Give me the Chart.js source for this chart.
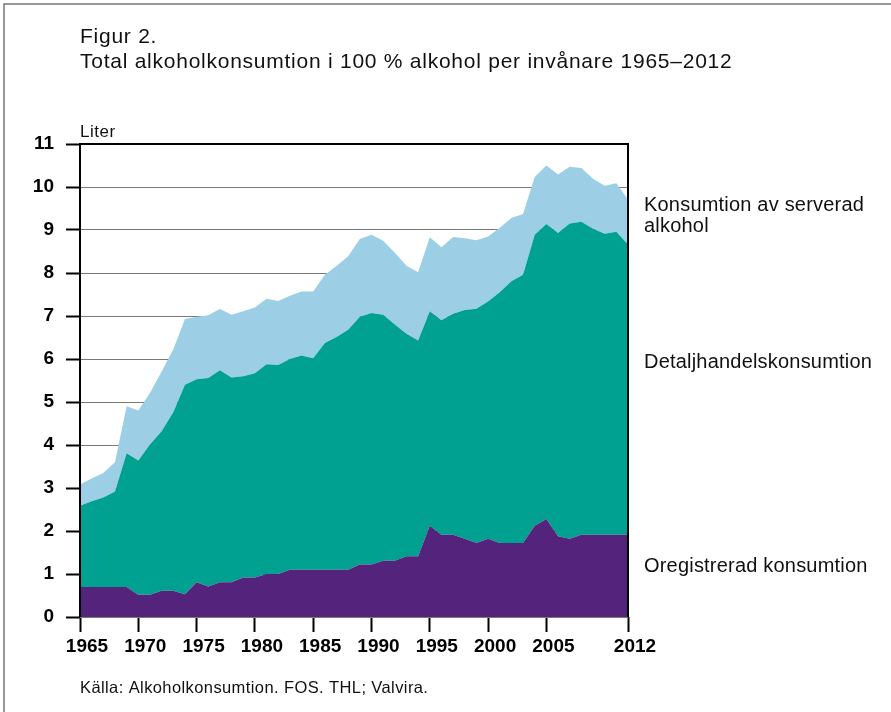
<!DOCTYPE html>
<html>
<head>
<meta charset="utf-8">
<script src="https://cdn.jsdelivr.net/npm/chart.js@4.4.1/dist/chart.umd.min.js"></script>
<style>
  html, body { margin: 0; padding: 0; background: #fff; }
  #wrap { width: 891px; height: 712px; }
</style>
</head>
<body>
<div id="wrap"><canvas id="alkoholChart" width="891" height="712"></canvas></div>
<script>
// År och liter 100 % alkohol per invånare
const years = [
  1965, 1966, 1967, 1968, 1969, 1970, 1971, 1972, 1973, 1974,
  1975, 1976, 1977, 1978, 1979, 1980, 1981, 1982, 1983, 1984,
  1985, 1986, 1987, 1988, 1989, 1990, 1991, 1992, 1993, 1994,
  1995, 1996, 1997, 1998, 1999, 2000, 2001, 2002, 2003, 2004,
  2005, 2006, 2007, 2008, 2009, 2010, 2011, 2012
];

const oregistrerad = [
  0.70, 0.70, 0.70, 0.70, 0.70, 0.52, 0.52, 0.61, 0.61, 0.53,
  0.81, 0.71, 0.81, 0.81, 0.92, 0.92, 1.00, 1.00, 1.10, 1.10,
  1.10, 1.10, 1.10, 1.10, 1.22, 1.22, 1.31, 1.31, 1.41, 1.41,
  2.12, 1.91, 1.91, 1.82, 1.72, 1.82, 1.72, 1.72, 1.72, 2.12,
  2.28, 1.88, 1.82, 1.91, 1.91, 1.91, 1.91, 1.91
];

const detaljhandel = [
  1.89, 1.99, 2.08, 2.22, 3.11, 3.12, 3.49, 3.71, 4.15, 4.87,
  4.72, 4.85, 4.93, 4.76, 4.68, 4.75, 4.88, 4.86, 4.90, 4.98,
  4.92, 5.27, 5.41, 5.58, 5.76, 5.85, 5.72, 5.49, 5.18, 5.02,
  4.99, 4.99, 5.14, 5.32, 5.45, 5.52, 5.83, 6.09, 6.24, 6.77,
  6.86, 7.05, 7.33, 7.28, 7.12, 7.00, 7.05, 6.75
];

const serverad = [
  0.49, 0.53, 0.57, 0.68, 1.09, 1.16, 1.20, 1.39, 1.46, 1.53,
  1.45, 1.46, 1.42, 1.46, 1.51, 1.53, 1.52, 1.49, 1.47, 1.49,
  1.55, 1.59, 1.65, 1.71, 1.81, 1.82, 1.72, 1.67, 1.58, 1.59,
  1.72, 1.70, 1.79, 1.67, 1.59, 1.51, 1.50, 1.47, 1.41, 1.34,
  1.36, 1.36, 1.32, 1.25, 1.16, 1.12, 1.13, 1.05
];

const xTickYears = [1965, 1970, 1975, 1980, 1985, 1990, 1995, 2000, 2005, 2012];

const titelRader = [
  "Figur 2.",
  "Total alkoholkonsumtion i 100 % alkohol per invånare 1965–2012"
];
const kalla = "Källa: Alkoholkonsumtion. FOS. THL; Valvira.";

// Texter till höger om diagrammet (serienamn)
const serieEtiketter = [
  { rader: ["Konsumtion av serverad", "alkohol"], y: 211 },
  { rader: ["Detaljhandelskonsumtion"], y: 368 },
  { rader: ["Oregistrerad konsumtion"], y: 572 }
];

const FONT = "'Liberation Sans', Arial, Helvetica, sans-serif";

const textPlugin = {
  id: 'figurTexter',
  beforeDraw(chart) {
    const ctx = chart.ctx;
    ctx.save();
    ctx.fillStyle = '#fff';
    ctx.fillRect(0, 0, chart.width, chart.height);
    // ram upptill och till vänster
    ctx.strokeStyle = '#777';
    ctx.lineWidth = 1.5;
    ctx.beginPath();
    ctx.moveTo(4, chart.height);
    ctx.lineTo(4, 4);
    ctx.lineTo(chart.width, 4);
    ctx.stroke();
    ctx.restore();
  },
  afterDatasetsDraw(chart) {
    const ctx = chart.ctx;
    const a = chart.chartArea;
    ctx.save();
    // axellinjer
    ctx.strokeStyle = '#000';
    ctx.lineWidth = 2;
    ctx.beginPath();
    ctx.moveTo(a.left, a.bottom);
    ctx.lineTo(a.left, a.top);
    ctx.lineTo(a.right, a.top);
    ctx.lineTo(a.right, a.bottom);
    ctx.stroke();

    ctx.fillStyle = '#111';
    ctx.textBaseline = 'alphabetic';
    ctx.textAlign = 'left';

    ctx.font = "21px " + FONT;
    ctx.letterSpacing = '0.75px';
    ctx.fillText(titelRader[0], 80, 43);
    ctx.fillText(titelRader[1], 80, 68);

    ctx.font = "17px " + FONT;
    ctx.letterSpacing = '0.5px';
    ctx.fillText("Liter", 80, 137);

    ctx.font = "20px " + FONT;
    ctx.letterSpacing = '0.2px';
    serieEtiketter.forEach(e => {
      e.rader.forEach((r, i) => ctx.fillText(r, 644, e.y + i * 21));
    });

    ctx.font = "16.5px " + FONT;
    ctx.letterSpacing = '0.4px';
    ctx.fillText(kalla, 80, 693);
    ctx.restore();
  }
};

const ctx = document.getElementById('alkoholChart');

new Chart(ctx, {
  type: 'line',
  data: {
    labels: years,
    datasets: [
      {
        label: 'Oregistrerad konsumtion',
        data: oregistrerad,
        backgroundColor: '#54247c',
        fill: 'origin'
      },
      {
        label: 'Detaljhandelskonsumtion',
        data: detaljhandel,
        backgroundColor: '#00a190',
        fill: '-1'
      },
      {
        label: 'Konsumtion av serverad alkohol',
        data: serverad,
        backgroundColor: '#9ccee6',
        fill: '-1'
      }
    ]
  },
  options: {
    responsive: false,
    animation: false,
    layout: {
      padding: { left: 0, top: 144, right: 263, bottom: 55 }
    },
    elements: {
      line: { tension: 0, borderWidth: 0, borderColor: 'rgba(0,0,0,0)' },
      point: { radius: 0 }
    },
    scales: {
      x: {
        type: 'linear',
        min: 1965,
        max: 2012,
        afterBuildTicks(scale) {
          scale.ticks = xTickYears.map(v => ({ value: v }));
        },
        afterFit(scale) { scale.height = 40; },
        border: { display: false },
        grid: {
          drawOnChartArea: false,
          tickLength: 15,
          tickColor: '#000',
          tickWidth: 2
        },
        ticks: {
          autoSkip: false,
          maxRotation: 0,
          labelOffset: 7,
          padding: 3,
          color: '#000',
          font: { family: FONT, size: 19, weight: 'bold' },
          callback: v => String(v)
        }
      },
      y: {
        stacked: true,
        min: 0,
        max: 11,
        afterFit(scale) { scale.width = 80; },
        border: { display: false },
        grid: {
          color: ctx => ctx.tick && ctx.tick.value === 11 ? '#000' : '#7a7a7a',
          lineWidth: 1,
          tickLength: 14,
          tickColor: '#000',
          tickWidth: 2
        },
        ticks: {
          stepSize: 1,
          padding: 12,
          color: '#000',
          font: { family: FONT, size: 19, weight: 'bold' }
        }
      }
    },
    plugins: {
      legend: { display: false },
      title: { display: false },
      tooltip: { enabled: false }
    }
  },
  plugins: [textPlugin]
});
</script>
</body>
</html>
